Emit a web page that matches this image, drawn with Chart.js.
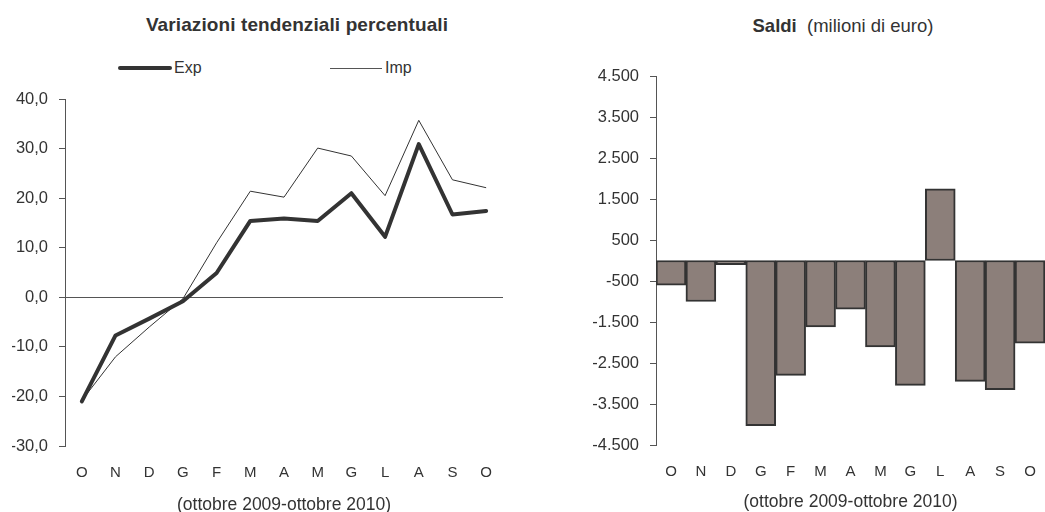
<!DOCTYPE html>
<html><head><meta charset="utf-8">
<script src="https://cdn.jsdelivr.net/npm/chart.js@4.4.0/dist/chart.umd.min.js"></script>
<style>
body{margin:0;background:#fff;width:1045px;height:512px;overflow:hidden;position:relative;font-family:"Liberation Sans",Arial,sans-serif;color:#333}
#w1{position:absolute;left:0;top:0;width:520px;height:512px}
#w2{position:absolute;left:520px;top:0;width:525px;height:512px}
.t{position:absolute;white-space:nowrap;line-height:20px}
.lg{position:absolute;background:#333}
</style></head><body>
<div class="t" style="left:0;width:594px;text-align:center;top:15px;font-weight:bold;font-size:19px;letter-spacing:0.1px">Variazioni tendenziali percentuali</div>
<div class="t" style="left:520px;width:646px;text-align:center;top:16px;font-size:18.5px"><b>Saldi</b>&nbsp; (milioni di euro)</div>
<div class="lg" style="left:118px;top:66px;width:54px;height:4px;border-radius:2px"></div>
<div class="t" style="left:174px;top:58px;font-size:16px">Exp</div>
<div class="lg" style="left:330px;top:68px;width:52px;height:1px;background:#555"></div>
<div class="t" style="left:385px;top:58px;font-size:16px">Imp</div>
<div id="w1"><canvas id="c1" width="520" height="512"></canvas></div>
<div id="w2"><canvas id="c2" width="525" height="512"></canvas></div>
<script>
const months = ['O','N','D','G','F','M','A','M','G','L','A','S','O'];
const expValues = [-21.0,-7.7,-4.3,-0.8,4.9,15.4,15.9,15.4,21.0,12.2,30.9,16.7,17.4];
const impValues = [-20.8,-12.0,-6.0,-0.3,11.0,21.4,20.2,30.1,28.5,20.5,35.7,23.7,22.1];
const leftTicks = [-30,-20,-10,0,10,20,30,40];
const saldiValues = [-600,-1000,-100,-4030,-2800,-1620,-1190,-2110,-3045,1750,-2950,-3150,-2015];
const rightTicks = [-4500,-3500,-2500,-1500,-500,500,1500,2500,3500,4500];
const axisTitle = '(ottobre 2009-ottobre 2010)';

const TXT = '#333';
const AX = '#555';
const FAM = '"Liberation Sans", Arial, sans-serif';
const TICKF = {family:FAM, size:16.5};
const MONF = {family:FAM, size:15};
const TITF = {family:FAM, size:17.5};
Chart.defaults.font.family = FAM;
Chart.defaults.color = TXT;

function fmtDec(v){ return v.toFixed(1).replace('.', ','); }
function fmtThou(v){
  const s = Math.abs(v).toString();
  const t = s.replace(/\B(?=(\d{3})+(?!\d))/g, '.');
  return (v < 0 ? '-' : '') + t;
}
const noGrid = {display:true, drawOnChartArea:false, drawTicks:true, tickLength:16, tickColor:'rgba(0,0,0,0)', color:'rgba(0,0,0,0)'};

new Chart(document.getElementById('c1'), {
  type:'line',
  data:{labels:months, datasets:[
    {label:'Exp', data:expValues, borderColor:'#333', backgroundColor:'#333', borderWidth:4, pointRadius:0, tension:0, borderCapStyle:'round', borderJoinStyle:'round'},
    {label:'Imp', data:impValues, borderColor:'#333', backgroundColor:'#333', borderWidth:1, pointRadius:0, tension:0}
  ]},
  options:{
    responsive:false, animation:false,
    layout:{padding:{left:12, right:17, top:99, bottom:0}},
    plugins:{tooltip:{enabled:false}, legend:{display:false}},
    scales:{
      x:{offset:true, grid:noGrid, border:{display:false},
         ticks:{font:MONF, color:TXT, padding:2, maxRotation:0, autoSkip:false},
         title:{display:true, text:axisTitle, font:TITF, color:TXT, padding:{top:0,bottom:-4}},
         afterFit:s=>{ s.height = 66; }},
      y:{min:-30, max:40,
         afterBuildTicks:s=>{ s.ticks = leftTicks.map(v=>({value:v})); },
         grid:{drawOnChartArea:true, color:c=>c.tick && c.tick.value===0 ? AX : 'rgba(0,0,0,0)', tickColor:AX, tickLength:6, lineWidth:1},
         border:{display:true, color:AX},
         ticks:{font:TICKF, color:TXT, padding:11, callback:v=>fmtDec(v)},
         afterFit:s=>{ s.width = 53; }}
    }
  }
});

new Chart(document.getElementById('c2'), {
  type:'bar',
  data:{labels:months, datasets:[
    {label:'Saldi', data:saldiValues, backgroundColor:'#8c7f7a', borderColor:'#333', borderWidth:2, borderSkipped:false, barPercentage:1, categoryPercentage:1}
  ]},
  options:{
    responsive:false, animation:false,
    layout:{padding:{left:0, right:-1, top:76, bottom:0}},
    plugins:{tooltip:{enabled:false}, legend:{display:false}},
    scales:{
      x:{grid:noGrid, border:{display:false},
         ticks:{font:MONF, color:TXT, padding:2, maxRotation:0, autoSkip:false},
         title:{display:true, text:axisTitle, font:TITF, color:TXT, padding:{top:0,bottom:-1}},
         afterFit:s=>{ s.height = 67; }},
      y:{min:-4500, max:4500,
         afterBuildTicks:s=>{ s.ticks = rightTicks.map(v=>({value:v})); },
         grid:{drawOnChartArea:false, tickColor:AX, tickLength:6},
         border:{display:true, color:AX},
         ticks:{font:TICKF, color:TXT, padding:11, callback:v=>fmtThou(v)},
         afterFit:s=>{ s.width = 136; }}
    }
  }
});
</script>
</body></html>
